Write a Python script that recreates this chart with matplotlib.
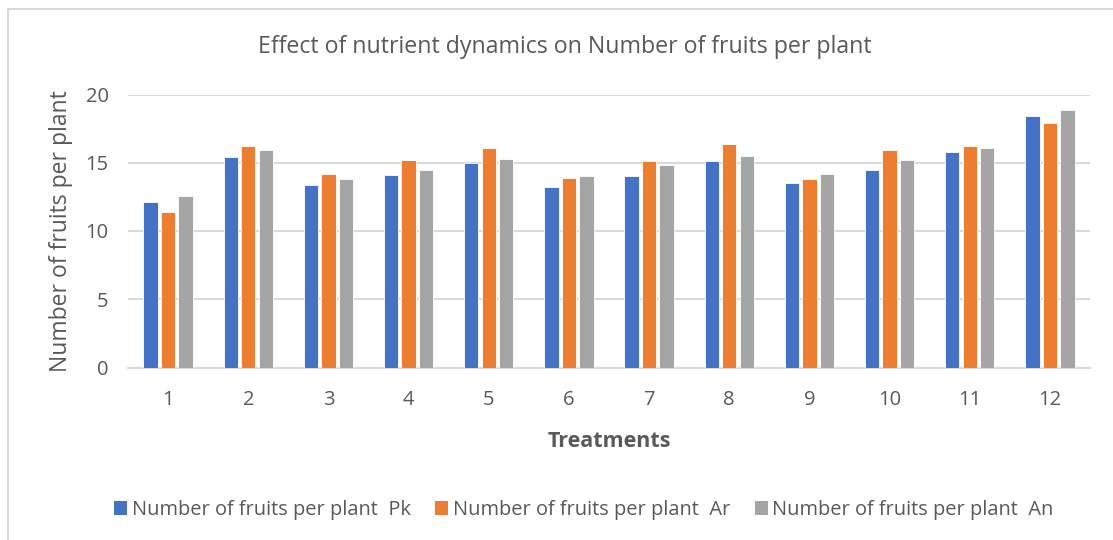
import matplotlib
matplotlib.use("Agg")
import matplotlib.pyplot as plt
import numpy as np
from matplotlib.lines import Line2D
from matplotlib.patches import Patch

treatments = ["1", "2", "3", "4", "5", "6", "7", "8", "9", "10", "11", "12"]
pk = [12.1, 15.4, 13.4, 14.1, 15.0, 13.2, 14.0, 15.1, 13.5, 14.5, 15.8, 18.4]
ar = [11.4, 16.2, 14.2, 15.2, 16.1, 13.9, 15.1, 16.4, 13.8, 15.9, 16.2, 17.9]
an = [12.6, 15.9, 13.8, 14.5, 15.3, 14.0, 14.8, 15.5, 14.2, 15.2, 16.1, 18.9]
series_names = ["Number of fruits per plant  Pk",
                "Number of fruits per plant  Ar",
                "Number of fruits per plant  An"]
colors = ["#4472C4", "#ED7D31", "#A5A5A5"]

plt.rcParams['font.family'] = ['Open Sans', 'DejaVu Sans']
txt = "#595959"

W, H = 1113, 540
fig = plt.figure(figsize=(W / 100, H / 100), dpi=100)

# chart frame
fig.add_artist(Line2D([8 / W, 1.0], [1 - 9 / H, 1 - 9 / H], color="#d9d9d9", lw=1.5))
fig.add_artist(Line2D([8 / W, 8 / W], [0, 1 - 9 / H], color="#d9d9d9", lw=1.5))

left, right = 128 / W, 1090 / W
bottom, top = 1 - 367.5 / H, 1 - 94.5 / H
ax = fig.add_axes([left, bottom, right - left, top - bottom])

x = np.arange(1, len(treatments) + 1)
step = 0.218
bw = 0.178
for i, (vals, c, name) in enumerate(zip([pk, ar, an], colors, series_names)):
    ax.bar(x + (i - 1) * step, vals, width=bw, color=c, label=name, zorder=3,
           edgecolor="white", linewidth=0.6)

ax.set_xlim(0.5, 12.5)
ax.set_ylim(0, 20)
ax.set_yticks([0, 5, 10, 15, 20])
ax.set_xticks(x)
ax.set_xticklabels(treatments)
ax.yaxis.grid(True, color="#d9d9d9", lw=1.5, zorder=0)
ax.set_axisbelow(True)
for s in ["top", "right", "left"]:
    ax.spines[s].set_visible(False)
ax.spines["bottom"].set_color("#d9d9d9")
ax.spines["bottom"].set_linewidth(1.5)
ax.tick_params(axis="both", length=0, labelsize=14.5, colors=txt)
ax.tick_params(axis="x", pad=16)
ax.tick_params(axis="y", pad=14)

ax.set_ylabel("Number of fruits per plant", fontsize=16.5, color=txt, labelpad=9)
ax.set_xlabel("Treatments", fontsize=15.5, color=txt, fontweight="bold", labelpad=15)

fig.text(565 / W, 1 - 47 / H, "Effect of nutrient dynamics on Number of fruits per plant",
         ha="center", va="center", fontsize=16.7, color=txt)

handles = [Patch(facecolor=c, edgecolor="none") for c in colors]
leg = fig.legend(handles, series_names, loc="center", bbox_to_anchor=(584 / W, 1 - 510 / H),
                 ncol=3, frameon=False, fontsize=14.4, handlelength=0.65, handleheight=0.65,
                 handletextpad=0.25, columnspacing=1.2, labelcolor=txt)

fig.savefig("out.png", dpi=100)
